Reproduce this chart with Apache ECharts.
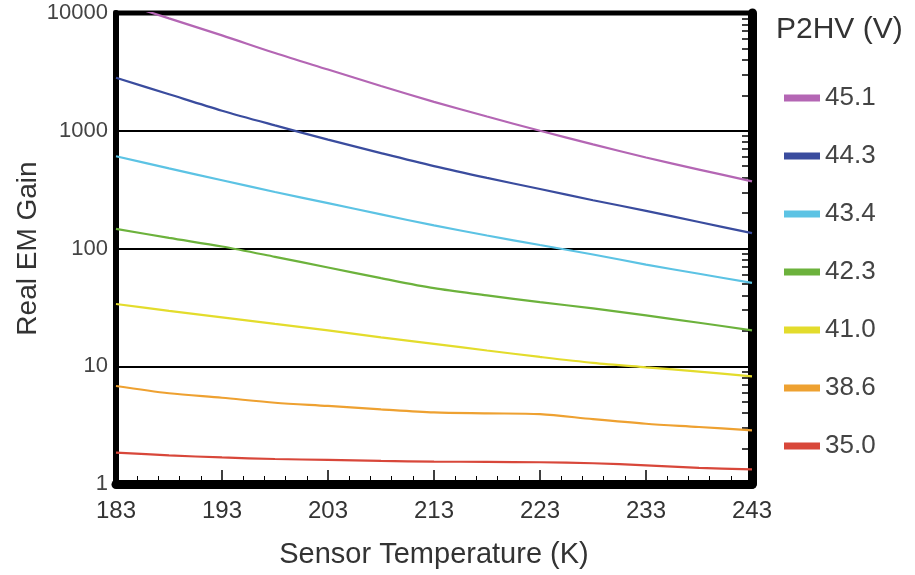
<!DOCTYPE html>
<html>
<head>
<meta charset="utf-8">
<script src="https://cdn.jsdelivr.net/npm/echarts@6/dist/echarts.min.js"></script>
<style>
  html, body { margin: 0; padding: 0; background: #fff; }
  #chart { width: 915px; height: 575px; }
</style>
</head>
<body>
<div id="chart"></div>
<script>
// sensor temperatures (K)
var temps = [183, 188, 193, 198, 203, 208, 213, 218, 223, 228, 233, 238, 243];

// real EM gain per P2HV setting
var gain451 = [12600, 9000, 6460, 4570, 3310, 2400, 1760, 1320, 1000, 767, 593, 468, 372];
var gain443 = [2820, 2040, 1480, 1110, 841, 646, 501, 398, 320, 257, 209, 168, 135];
var gain434 = [607, 479, 380, 302, 243, 195, 157, 129, 107, 89, 73, 61, 51];
var gain423 = [147, 123, 104, 85, 69, 56, 46, 40, 35, 31, 27, 23.4, 20.2];
var gain410 = [33.8, 29.5, 26, 22.9, 20.2, 17.6, 15.5, 13.6, 12.0, 10.7, 9.8, 9.0, 8.2];
var gain386 = [6.8, 5.9, 5.4, 4.9, 4.6, 4.3, 4.05, 3.98, 3.92, 3.55, 3.25, 3.05, 2.85];
var gain350 = [1.85, 1.75, 1.68, 1.63, 1.6, 1.57, 1.55, 1.54, 1.53, 1.5, 1.44, 1.37, 1.33];

var voltages = ['45.1', '44.3', '43.4', '42.3', '41.0', '38.6', '35.0'];
var colors = ['#b466b4', '#3a4c9e', '#5cc3e4', '#6cb23c', '#e3dc2c', '#eea131', '#d8473a'];
var allGains = [gain451, gain443, gain434, gain423, gain410, gain386, gain350];

// minor log ticks on the right frame edge
var rightTicks = [2, 3, 4, 5, 6, 7, 8, 9, 20, 30, 40, 50, 60, 70, 80, 90,
  200, 300, 400, 500, 600, 700, 800, 900, 2000, 3000, 4000, 5000, 6000, 7000, 8000, 9000];

var font = "'Liberation Sans', Arial, Helvetica, sans-serif";

var series = voltages.map(function (v, i) {
  return {
    name: v,
    type: 'line',
    xAxisIndex: 0,
    yAxisIndex: 0,
    data: temps.map(function (t, j) { return [t, allGains[i][j]]; }),
    smooth: 0.3,
    symbol: 'none',
    lineStyle: { color: colors[i], width: 2.2 },
    itemStyle: { color: colors[i] },
    z: 3
  };
});

var chart = echarts.init(document.getElementById('chart'));
var option = {
  animation: false,
  backgroundColor: '#fff',
  textStyle: { fontFamily: font },
  title: {
    text: 'P2HV (V)',
    left: 771,
    top: 10,
    textStyle: { fontFamily: font, fontSize: 30, fontWeight: 'normal', color: '#333' }
  },
  legend: {
    orient: 'vertical',
    left: 779,
    top: 79,
    icon: 'rect',
    itemWidth: 36,
    itemHeight: 7,
    itemGap: 30,
    data: voltages,
    textStyle: { fontFamily: font, fontSize: 26, lineHeight: 28, color: '#444' }
  },
  grid: {
    left: 116, right: 163, top: 13, bottom: 91,
    show: true, borderColor: '#000', borderWidth: 5, backgroundColor: 'transparent'
  },
  xAxis: [{
    type: 'value',
    min: 183,
    max: 243,
    interval: 10,
    position: 'bottom',
    name: 'Sensor Temperature (K)',
    nameLocation: 'middle',
    nameGap: 56,
    nameMoveOverlap: false,
    nameTextStyle: { fontFamily: font, fontSize: 29, color: '#333' },
    axisLine: { lineStyle: { color: '#000', width: 9 } },
    axisTick: { inside: true, length: 14, lineStyle: { color: '#000', width: 1.5 } },
    minorTick: { show: true, splitNumber: 5, length: 8, lineStyle: { color: '#000', width: 1 } },
    splitLine: { show: false },
    axisLabel: { fontFamily: font, fontSize: 24, color: '#333', margin: 15 }
  }],
  yAxis: [{
    type: 'log',
    logBase: 10,
    min: 1,
    max: 10000,
    position: 'left',
    name: 'Real EM Gain',
    nameLocation: 'middle',
    nameGap: 74,
    nameMoveOverlap: false,
    nameTextStyle: { fontFamily: font, fontSize: 28, color: '#333' },
    axisLine: { show: true, lineStyle: { color: '#000', width: 6 } },
    axisTick: { show: false },
    splitLine: { show: true, lineStyle: { color: '#000', width: 2 } },
    axisLabel: {
      fontFamily: font, fontSize: 22, color: '#444', margin: 8,
      formatter: function (v) { return String(Math.round(v)); }
    }
  }, {
    type: 'log',
    logBase: 10,
    min: 1,
    max: 10000,
    position: 'right',
    axisLine: { show: true, lineStyle: { color: '#000', width: 9 } },
    axisTick: { show: true, inside: true, length: 10, customValues: rightTicks, lineStyle: { color: '#000', width: 1.5 } },
    splitLine: { show: false },
    axisLabel: { show: false }
  }],
  series: series
};
chart.setOption(option);
window.addEventListener('resize', function () {
  chart.resize();
});
</script>
</body>
</html>
